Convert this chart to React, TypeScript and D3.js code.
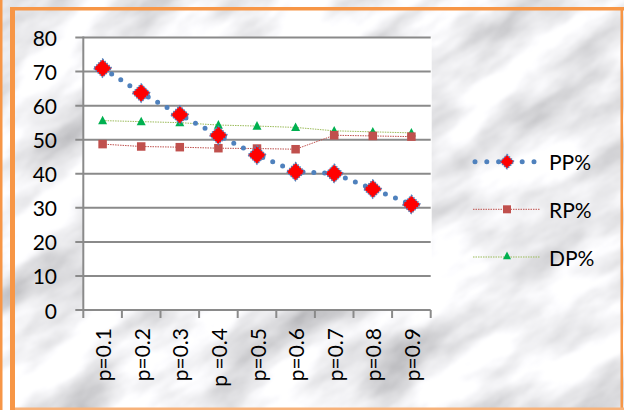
import React from "react";
import * as d3 from "d3";

const categories = ["p=0.1", "p=0.2", "p=0.3", "p =0.4", "p=0.5", "p=0.6", "p=0.7", "p=0.8", "p=0.9"];
const ppValues = [71, 63.7, 57.3, 51.3, 45.5, 40.6, 40.1, 35.5, 31];
const rpValues = [48.7, 48, 47.8, 47.5, 47.4, 47.2, 51.3, 51.1, 50.9];
const dpValues = [55.6, 55.3, 55, 54.3, 54, 53.6, 52.6, 52.3, 52];
const yTicks = [0, 10, 20, 30, 40, 50, 60, 70, 80];
const seriesNames = ["PP%", "RP%", "DP%"];

const W = 624;
const H = 410;
const FONT = "Lato, 'Open Sans', sans-serif";

export default function App() {
  const plot = { left: 83.3, right: 430.7, top: 37.5, bottom: 310 };
  const x = d3.scaleBand<string>().domain(categories).range([plot.left, plot.right]);
  const y = d3.scaleLinear().domain([0, 80]).range([plot.bottom, plot.top]);
  const cx = (c: string) => (x(c) as number) + x.bandwidth() / 2;
  const line = d3.line<[number, number]>().x((d) => d[0]).y((d) => d[1]);
  const pts = (vals: number[]) => vals.map((v, i) => [cx(categories[i]), y(v)] as [number, number]);

  const grid = "#8a8a8a";
  const blue = "#4F81BD";
  const red = "#C0504D";
  const green = "#00B050";
  const lightGreen = "#9BBB59";

  const diamond = (px: number, py: number, r: number, key: string | number) => (
    <g key={key}>
      <path d={`M${px},${py - r}L${px + r},${py}L${px},${py + r}L${px - r},${py}Z`} fill="#FF0000" />
      <path
        d={`M${px},${py - r}L${px + r},${py}L${px},${py + r}L${px - r},${py}Z`}
        fill="none"
        stroke={blue}
        strokeWidth={1.6}
        strokeDasharray="1.4 1.4"
      />
    </g>
  );
  const square = (px: number, py: number, s: number, key: string | number) => (
    <rect key={key} x={px - s / 2} y={py - s / 2} width={s} height={s} fill={red} />
  );
  const triangle = (px: number, py: number, s: number, key: string | number) => (
    <path
      key={key}
      d={`M${px},${py - s * 0.55}L${px + s / 2},${py + s * 0.4}L${px - s / 2},${py + s * 0.4}Z`}
      fill={green}
    />
  );

  const legendY = [161.7, 209.3, 257];
  const legX0 = 473;
  const legX1 = 540;
  const legMid = 507;

  return (
    <svg
      width={W}
      height={H}
      style={{ position: "absolute", left: 0, top: 0 }}
      xmlns="http://www.w3.org/2000/svg"
    >
      <defs>
        <filter id="marble" x={-600} y={-600} width={2000} height={2000} filterUnits="userSpaceOnUse">
          <feTurbulence type="fractalNoise" baseFrequency="0.009 0.022" numOctaves="5" seed="11" result="n" />
          <feColorMatrix
            in="n"
            type="matrix"
            values="1.0 0 0 0 0.36  1.0 0 0 0 0.36  1.0 0 0 0 0.38  0 0 0 0 1"
          />
          <feGaussianBlur stdDeviation="0.8" />
        </filter>
      </defs>

      {/* marble panel background */}
      <rect x={0} y={0} width={W} height={H} fill="#e6e6e8" />
      <g transform={`rotate(-32 ${W / 2} ${H / 2})`}>
        <rect x={-300} y={-400} width={W + 600} height={H + 800} filter="url(#marble)" />
      </g>

      {/* frame */}
      <rect x={0} y={0} width={2.5} height={H} fill="#F79646" />
      <rect x={10} y={7} width={5} height={H - 7} fill="#F79646" />
      <rect x={10} y={7} width={W - 10} height={3.5} fill="#F79646" />
      <rect x={620.5} y={7} width={2.5} height={H - 7} fill="#F79646" />
      <rect x={15} y={407.5} width={W - 15} height={2.5} fill="#F7B27A" />

      {/* plot area */}
      <rect x={plot.left} y={plot.top} width={plot.right - plot.left + 1} height={plot.bottom - plot.top} fill="#ffffff" />

      {/* gridlines and y ticks */}
      {yTicks.map((t) => (
        <g key={t}>
          <line x1={plot.left - 8} x2={plot.right} y1={y(t)} y2={y(t)} stroke={grid} strokeWidth={2} />
          <text
            x={57}
            y={y(t)}
            textAnchor="end"
            dominantBaseline="central"
            fontFamily={FONT}
            fontSize={21}
            fill="#000"
          >
            {t}
          </text>
        </g>
      ))}
      <line x1={plot.left} x2={plot.left} y1={plot.top - 1} y2={plot.bottom} stroke={grid} strokeWidth={2} />

      {/* x ticks and labels */}
      {[...categories.map((c) => x(c) as number), plot.right].map((tx, i) => (
        <line key={i} x1={tx} x2={tx} y1={plot.bottom} y2={plot.bottom + 8} stroke={grid} strokeWidth={2} />
      ))}
      {categories.map((c) => (
        <text
          key={c}
          transform={`translate(${cx(c)},${328}) rotate(-90)`}
          textAnchor="end"
          dominantBaseline="central"
          fontFamily={FONT}
          fontSize={21}
          fill="#000"
        >
          {c}
        </text>
      ))}

      {/* DP% */}
      <path d={line(pts(dpValues)) || ""} fill="none" stroke={lightGreen} strokeWidth={1} strokeDasharray="1.5 1" />
      {pts(dpValues).map(([px, py], i) => triangle(px, py, 9, i))}

      {/* RP% */}
      <path d={line(pts(rpValues)) || ""} fill="none" stroke={red} strokeWidth={1} strokeDasharray="1.5 1" />
      {pts(rpValues).map(([px, py], i) => square(px, py, 8.5, i))}

      {/* PP% */}
      <path
        d={line(pts(ppValues)) || ""}
        fill="none"
        stroke={blue}
        strokeWidth={5}
        strokeLinecap="round"
        strokeDasharray="0 10.8"
      />
      {pts(ppValues).map(([px, py], i) => diamond(px, py, 9, i))}

      {/* legend */}
      <line x1={legX0 + 2} x2={legX1 - 4} y1={legendY[0]} y2={legendY[0]} stroke={blue} strokeWidth={5} strokeLinecap="round" strokeDasharray="0 11.8" />
      {diamond(legMid, legendY[0], 7, "l0")}
      <line x1={legX0} x2={legX1} y1={legendY[1]} y2={legendY[1]} stroke={red} strokeWidth={1} strokeDasharray="1.5 1" />
      {square(legMid, legendY[1], 8, "l1")}
      <line x1={legX0} x2={legX1} y1={legendY[2]} y2={legendY[2]} stroke={lightGreen} strokeWidth={1} strokeDasharray="1.5 1" />
      {triangle(legMid, legendY[2] - 1, 8, "l2")}
      {seriesNames.map((n, i) => (
        <text
          key={n}
          x={549}
          y={legendY[i]}
          dominantBaseline="central"
          fontFamily={FONT}
          fontSize={21}
          fill="#000"
        >
          {n}
        </text>
      ))}
    </svg>
  );
}
